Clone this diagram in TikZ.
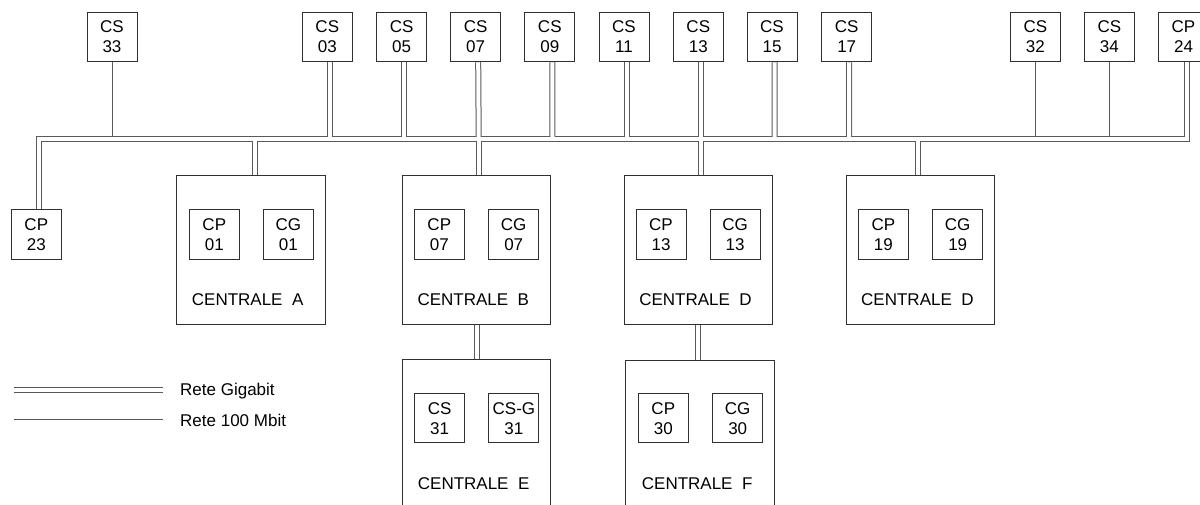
\documentclass[tikz,border=0pt]{standalone}
\usepackage{fontspec}
\setmainfont{Liberation Sans}
\usetikzlibrary{backgrounds}
\definecolor{linec}{HTML}{5A5A5A}
\definecolor{boxc}{HTML}{303030}
\newcommand\fs{\fontsize{17}{20}\selectfont}
\tikzset{
  box/.style={draw=boxc, line width=1pt, minimum width=50pt, minimum height=49.5pt, inner sep=0pt, align=center, font=\fs},
  central/.style={draw=boxc, line width=1pt, minimum width=148.5pt, minimum height=148.5pt, inner sep=0pt},
  lab/.style={anchor=west, inner sep=0pt, font=\fs},
  thinline/.style={draw=linec, line width=1pt},
  gbouter/.style={draw=linec, line width=6pt, line join=miter},
  gbinner/.style={draw=white, line width=4pt, line join=miter}
}
\newcommand\gigapaths[1]{%
  \path[#1] ([xshift=2.2pt]cp23.north) -- (busL) -- (busR) -- ([xshift=3.1pt]cp24.south);
  \path[#1] ([xshift=2.5pt]cs03.south) -- (j03);
  \path[#1] ([xshift=2.5pt]cs05.south) -- (j05);
  \path[#1] ([xshift=2.5pt]cs07.south) -- (j07);
  \path[#1] ([xshift=2.5pt]cs09.south) -- (j09);
  \path[#1] ([xshift=2.5pt]cs11.south) -- (j11);
  \path[#1] ([xshift=2.5pt]cs13.south) -- (j13);
  \path[#1] ([xshift=2.5pt]cs15.south) -- (j15);
  \path[#1] ([xshift=2.5pt]cs17.south) -- (j17);
  \path[#1] (jA) -- (jA |- cA.north);
  \path[#1] (jB) -- (jB |- cB.north);
  \path[#1] (jD) -- (jD |- cD.north);
  \path[#1] (jG) -- (jG |- cG.north);
  \path[#1] (cB.south) -- (cE.north);
  \path[#1] (jF) -- (jF |- cF.north);
  \path[#1] (lg1) -- (lg2);
}
\begin{document}
\begin{tikzpicture}[x=1pt,y=-1pt]
\useasboundingbox (0,0) rectangle (1200,504);
\clip (0,0) rectangle (1200,504);
% top boxes
\node[box] (cs33) at (112,37) {CS\\33};
\node[box] (cs03) at (327.3,37) {CS\\03};
\node[box] (cs05) at (401.7,37) {CS\\05};
\node[box] (cs07) at (475.7,37) {CS\\07};
\node[box] (cs09) at (549.8,37) {CS\\09};
\node[box] (cs11) at (624,37) {CS\\11};
\node[box] (cs13) at (698.3,37) {CS\\13};
\node[box] (cs15) at (772,37) {CS\\15};
\node[box] (cs17) at (846.7,37) {CS\\17};
\node[box] (cs32) at (1035.3,37) {CS\\32};
\node[box] (cs34) at (1109.3,37) {CS\\34};
\node[box] (cp24) at (1183.5,37) {CP\\24};
\node[box] (cp23) at (36.3,234.7) {CP\\23};
% centrale A
\node[central] (cA) at (251,249.85) {};
\node[box] (cp01) at (214.3,234.7) {CP\\01};
\node[box] (cg01) at (288.3,234.7) {CG\\01};
\node[lab] (lA) at (191.7,299.7) {CENTRALE\ \ A};
% centrale B
\node[central] (cB) at (476.7,249.85) {};
\node[box] (cp07) at (439.3,234.7) {CP\\07};
\node[box] (cg07) at (513.7,234.7) {CG\\07};
\node[lab] (lB) at (417.4,299.7) {CENTRALE\ \ B};
% centrale D
\node[central] (cD) at (698.3,249.85) {};
\node[box] (cp13) at (661,234.7) {CP\\13};
\node[box] (cg13) at (735,234.7) {CG\\13};
\node[lab] (lD) at (639.1,299.7) {CENTRALE\ \ D};
% centrale D (second)
\node[central] (cG) at (920.3,249.85) {};
\node[box] (cp19) at (883.3,234.7) {CP\\19};
\node[box] (cg19) at (957.7,234.7) {CG\\19};
\node[lab] (lG) at (861,299.7) {CENTRALE\ \ D};
% centrale E
\node[central] (cE) at (476.7,433.6) {};
\node[box] (cs31) at (439.7,418.2) {CS\\31};
\node[box] (csg31) at (513.9,418.2) {CS-G\\31};
\node[lab] (lE) at (417.7,483.3) {CENTRALE\ \ E};
% centrale F
\node[central] (cF) at (700.2,434.25) {};
\node[box] (cp30) at (663.3,418.2) {CP\\30};
\node[box] (cg30) at (737.7,418.2) {CG\\30};
\node[lab] (lF) at (641.7,483.3) {CENTRALE\ \ F};
% legend
\coordinate (lg1) at (14,389.8);
\coordinate (lg2) at (162.7,389.8);
\coordinate (lh1) at (14,419);
\coordinate (lh2) at (162.7,419);
\node[lab] (lgt) at (180,390.7) {Rete Gigabit};
\node[lab] (lht) at (180,420) {Rete 100 Mbit};
% bus coordinates
\coordinate (busL) at (38.5,138.5);
\coordinate (busR) at (1186.6,138.5);
\coordinate (up) at (0,136);
\coordinate (j03) at (329.8,138.5);
\coordinate (j05) at (404.2,138.5);
\coordinate (j07) at (478.7,138.5);
\coordinate (j09) at (552.5,138.5);
\coordinate (j11) at (626.5,138.5);
\coordinate (j13) at (700.8,138.5);
\coordinate (j15) at (774.7,138.5);
\coordinate (j17) at (849,138.5);
\coordinate (jA) at (255,138.5);
\coordinate (jB) at (478.7,138.5);
\coordinate (jD) at (700.8,138.5);
\coordinate (jG) at (917.5,138.5);
\coordinate (jF) at (697.8,324.1);
\begin{scope}[on background layer]
  \gigapaths{gbouter}
  \draw[thinline] (cs33.south) -- (cs33.south |- up);
  \draw[thinline] (cs32.south) -- (cs32.south |- up);
  \draw[thinline] (cs34.south) -- (cs34.south |- up);
  \draw[thinline] (lh1) -- (lh2);
  \gigapaths{gbinner}
\end{scope}
\end{tikzpicture}
\end{document}
